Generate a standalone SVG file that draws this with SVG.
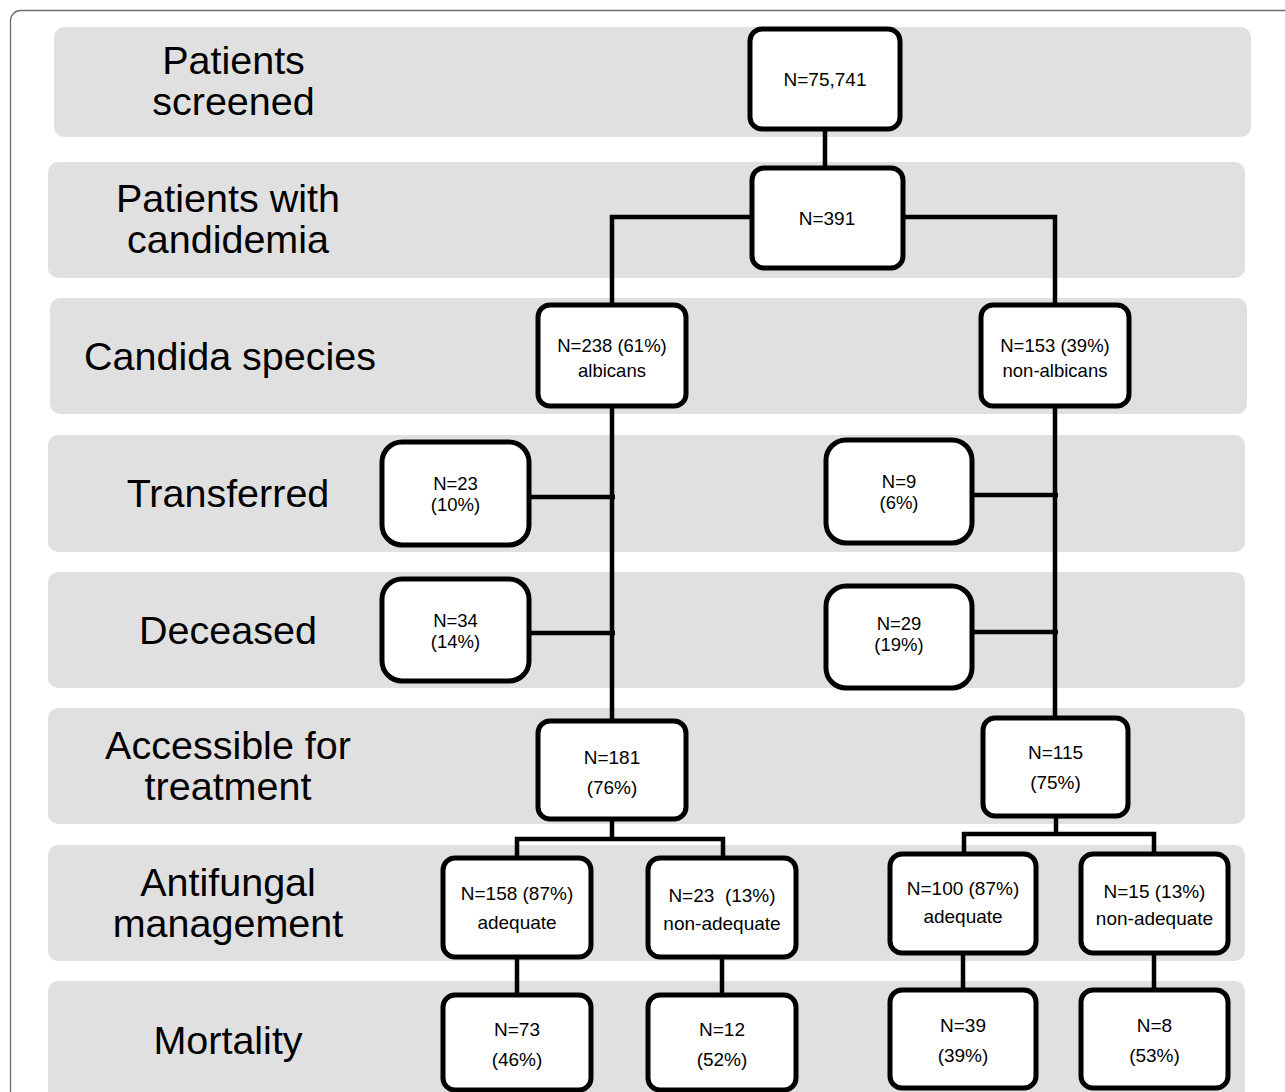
<svg xmlns="http://www.w3.org/2000/svg" width="1285" height="1092" viewBox="0 0 1285 1092">
<style>
  .band { fill: #e0e0e0; }
  .lbl { font-family: "Liberation Sans", Arial, sans-serif; font-size: 39.5px; fill: #000; text-anchor: middle; }
  .box { fill: #fff; stroke: #000; stroke-width: 5; }
  .t { font-family: "Liberation Sans", Arial, sans-serif; font-size: 19px; fill: #000; text-anchor: middle; }
  .ts { font-family: "Liberation Sans", Arial, sans-serif; font-size: 18.5px; fill: #000; text-anchor: middle; }
  .conn { fill: none; stroke: #000; stroke-width: 4.5; stroke-linejoin: miter; }
</style>
<rect width="1285" height="1092" fill="#fff"/>
<rect x="10.5" y="10.5" width="1300" height="1100" rx="10" fill="none" stroke="#6e6e6e" stroke-width="1.3"/>

<g id="bands">
  <g id="band-screened"><rect class="band" x="54" y="27" width="1197" height="110" rx="10"/>
    <text class="lbl" x="233.5" y="74">Patients</text><text class="lbl" x="233.5" y="115">screened</text></g>
  <g id="band-candidemia"><rect class="band" x="48" y="162" width="1197" height="116" rx="10"/>
    <text class="lbl" x="228" y="212">Patients with</text><text class="lbl" x="228" y="253">candidemia</text></g>
  <g id="band-species"><rect class="band" x="50" y="298" width="1197" height="116" rx="10"/>
    <text class="lbl" x="230" y="370">Candida species</text></g>
  <g id="band-transferred"><rect class="band" x="48" y="435" width="1197" height="117" rx="10"/>
    <text class="lbl" x="228" y="507">Transferred</text></g>
  <g id="band-deceased"><rect class="band" x="48" y="572" width="1197" height="116" rx="10"/>
    <text class="lbl" x="228" y="644">Deceased</text></g>
  <g id="band-accessible"><rect class="band" x="48" y="708" width="1197" height="116" rx="10"/>
    <text class="lbl" x="228" y="759">Accessible for</text><text class="lbl" x="228" y="800">treatment</text></g>
  <g id="band-antifungal"><rect class="band" x="48" y="845" width="1197" height="116" rx="10"/>
    <text class="lbl" x="228" y="896">Antifungal</text><text class="lbl" x="228" y="937">management</text></g>
  <g id="band-mortality"><rect class="band" x="48" y="981" width="1197" height="140" rx="10"/>
    <text class="lbl" x="228" y="1054">Mortality</text></g>
</g>

<g id="connectors">
  <path class="conn" d="M825,129 V168"/>
  <path class="conn" d="M752,217 H612 V305"/>
  <path class="conn" d="M903,217 H1055 V305"/>
  <path class="conn" d="M612,406 V721"/>
  <path class="conn" d="M1055,406 V718"/>
  <path class="conn" d="M529,497 H615"/>
  <path class="conn" d="M529,633 H615"/>
  <path class="conn" d="M972,495 H1058"/>
  <path class="conn" d="M972,632 H1058"/>
  <path class="conn" d="M612,819 V839"/>
  <path class="conn" d="M517,858 V839 H723 V858"/>
  <path class="conn" d="M1056,816 V834"/>
  <path class="conn" d="M964,854 V834 H1154 V854"/>
  <path class="conn" d="M517,957 V995"/>
  <path class="conn" d="M722,957 V995"/>
  <path class="conn" d="M963,953 V990"/>
  <path class="conn" d="M1154,953 V990"/>
</g>

<g id="n-screened"><rect class="box" x="750" y="29" width="150" height="100" rx="12"/>
  <text class="t" x="825" y="86">N=75,741</text></g>
<g id="n-candidemia"><rect class="box" x="752" y="168" width="151" height="100" rx="12"/>
  <text class="t" x="827" y="225">N=391</text></g>
<g id="n-albicans"><rect class="box" x="538" y="305" width="148" height="101" rx="12"/>
  <text class="ts" x="612" y="352">N=238 (61%)</text><text class="ts" x="612" y="377">albicans</text></g>
<g id="n-nonalbicans"><rect class="box" x="981" y="305" width="148" height="101" rx="12"/>
  <text class="ts" x="1055" y="352">N=153 (39%)</text><text class="ts" x="1055" y="377">non-albicans</text></g>
<g id="n-transferred-l"><rect class="box" x="382" y="442" width="147" height="103" rx="20"/>
  <text class="ts" x="455.5" y="490">N=23</text><text class="ts" x="455.5" y="511">(10%)</text></g>
<g id="n-transferred-r"><rect class="box" x="826" y="440" width="146" height="103" rx="20"/>
  <text class="ts" x="899" y="488">N=9</text><text class="ts" x="899" y="509">(6%)</text></g>
<g id="n-deceased-l"><rect class="box" x="382" y="579" width="147" height="102" rx="20"/>
  <text class="ts" x="455.5" y="627">N=34</text><text class="ts" x="455.5" y="648">(14%)</text></g>
<g id="n-deceased-r"><rect class="box" x="826" y="586" width="146" height="102" rx="20"/>
  <text class="ts" x="899" y="630">N=29</text><text class="ts" x="899" y="651">(19%)</text></g>
<g id="n-access-l"><rect class="box" x="538" y="721" width="148" height="98" rx="12"/>
  <text class="t" x="612" y="764">N=181</text><text class="t" x="612" y="794">(76%)</text></g>
<g id="n-access-r"><rect class="box" x="983" y="718" width="145" height="98" rx="12"/>
  <text class="t" x="1055.5" y="759">N=115</text><text class="t" x="1055.5" y="789">(75%)</text></g>
<g id="n-adequate-l"><rect class="box" x="443" y="858" width="148" height="99" rx="12"/>
  <text class="t" x="517" y="900">N=158 (87%)</text><text class="t" x="517" y="929">adequate</text></g>
<g id="n-nonadequate-l"><rect class="box" x="648" y="858" width="148" height="99" rx="12"/>
  <text class="t" x="722" y="902" xml:space="preserve">N=23  (13%)</text><text class="t" x="722" y="930">non-adequate</text></g>
<g id="n-adequate-r"><rect class="box" x="890" y="854" width="146" height="99" rx="12"/>
  <text class="t" x="963" y="895">N=100 (87%)</text><text class="t" x="963" y="923">adequate</text></g>
<g id="n-nonadequate-r"><rect class="box" x="1081" y="854" width="147" height="99" rx="12"/>
  <text class="t" x="1154.5" y="898">N=15 (13%)</text><text class="t" x="1154.5" y="925">non-adequate</text></g>
<g id="n-mort-1"><rect class="box" x="443" y="995" width="148" height="95" rx="12"/>
  <text class="t" x="517" y="1036">N=73</text><text class="t" x="517" y="1066">(46%)</text></g>
<g id="n-mort-2"><rect class="box" x="648" y="995" width="148" height="95" rx="12"/>
  <text class="t" x="722" y="1036">N=12</text><text class="t" x="722" y="1066">(52%)</text></g>
<g id="n-mort-3"><rect class="box" x="890" y="990" width="146" height="98" rx="12"/>
  <text class="t" x="963" y="1032">N=39</text><text class="t" x="963" y="1062">(39%)</text></g>
<g id="n-mort-4"><rect class="box" x="1081" y="990" width="147" height="98" rx="12"/>
  <text class="t" x="1154.5" y="1032">N=8</text><text class="t" x="1154.5" y="1062">(53%)</text></g>
</svg>
